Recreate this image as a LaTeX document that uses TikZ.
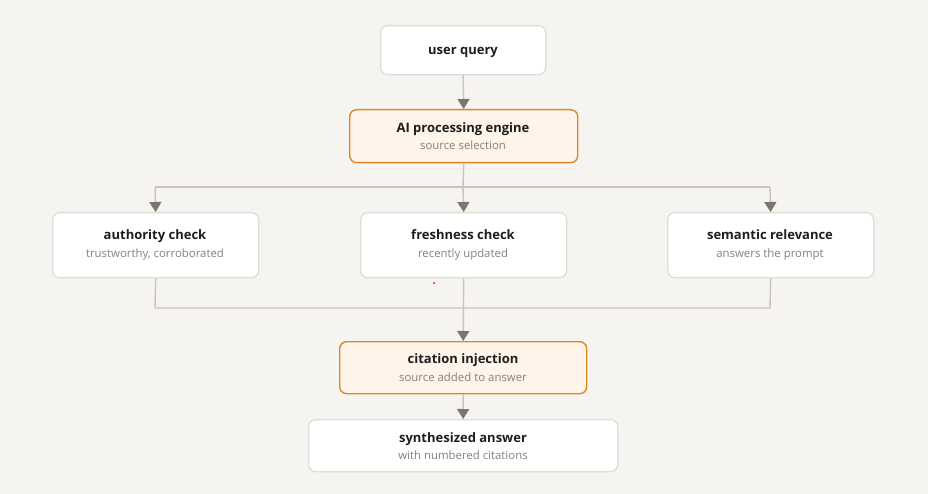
\documentclass[tikz,border=0pt]{standalone}
\usepackage{fontspec}
\setmainfont{Open Sans}
\usetikzlibrary{arrows.meta}
\definecolor{bg}{HTML}{F6F4F0}
\definecolor{boxline}{HTML}{E0DCD6}
\definecolor{orline}{HTML}{E0862A}
\definecolor{orfill}{HTML}{FEF4E9}
\definecolor{conn}{HTML}{C8C4BD}
\definecolor{tipc}{HTML}{7A776F}
\definecolor{titlec}{HTML}{1E1E1E}
\definecolor{subc}{HTML}{85817A}
\tikzset{
  box/.style={draw=boxline, fill=white, line width=1.3pt, rounded corners=7pt, anchor=north west},
  hibox/.style={draw=orline, fill=orfill, line width=1.4pt, rounded corners=7pt, anchor=north west},
  ttl/.style={font=\fontsize{13}{15}\selectfont\bfseries, text=titlec, anchor=base, inner sep=0pt},
  sub/.style={font=\fontsize{11.4}{13}\selectfont, text=subc, anchor=base, inner sep=0pt},
  conn/.style={draw=conn, line width=1.4pt},
  arr/.style={conn, -{Triangle[width=12pt,length=10pt,color=tipc]}},
}
\begin{document}
\begin{tikzpicture}[x=1pt,y=-1pt]
\path[fill=bg] (0,0) rectangle (928,494);
\useasboundingbox (0,0) rectangle (928,494);
% boxes
\node[box, minimum width=165pt, minimum height=49pt] (uq) at (380,25) {};
\node[ttl] at (463,54.5) {user query};
\node[hibox, minimum width=228pt, minimum height=53pt] (ai) at (349,109) {};
\node[ttl] at (463,132.3) {AI processing engine};
\node[sub] at (463,149.5) {source selection};
\node[box, minimum width=206pt, minimum height=65pt] (au) at (52,212) {};
\node[ttl] at (155,239.5) {authority check};
\node[sub] at (155,257.5) {trustworthy, corroborated};
\node[box, minimum width=206pt, minimum height=65pt] (fr) at (360,212) {};
\node[ttl] at (463,239.5) {freshness check};
\node[sub] at (463,257.5) {recently updated};
\node[box, minimum width=206pt, minimum height=65pt] (se) at (667,212) {};
\node[ttl] at (770,239.5) {semantic relevance};
\node[sub] at (770,257.5) {answers the prompt};
\node[hibox, minimum width=247pt, minimum height=52pt] (ci) at (339,341) {};
\node[ttl] at (463,363.3) {citation injection};
\node[sub] at (463,381.7) {source added to answer};
\node[box, minimum width=309pt, minimum height=52pt] (sa) at (308,419) {};
\node[ttl] at (463,442.3) {synthesized answer};
\node[sub] at (463,459.3) {with numbered citations};
% connectors
\coordinate (top) at (463,187);
\coordinate (tl) at (155,187);
\coordinate (tr) at (770,187);
\coordinate (bl) at (155,308);
\coordinate (br) at (770,308);
\draw[arr] (uq.south) -- (ai.north);
\draw[conn] (ai.south) -- (top);
\draw[conn] (tl) -- (tr);
\draw[arr] (tl) -- (au.north);
\draw[arr] (top) -- (fr.north);
\draw[arr] (tr) -- (se.north);
\draw[conn] (au.south) -- (bl) -- (br) -- (se.south);
\draw[arr] (fr.south) -- (ci.north);
\draw[arr] (ci.south) -- (sa.north);
\fill[red!80!black] (434,283) circle (1pt);
\end{tikzpicture}
\end{document}
